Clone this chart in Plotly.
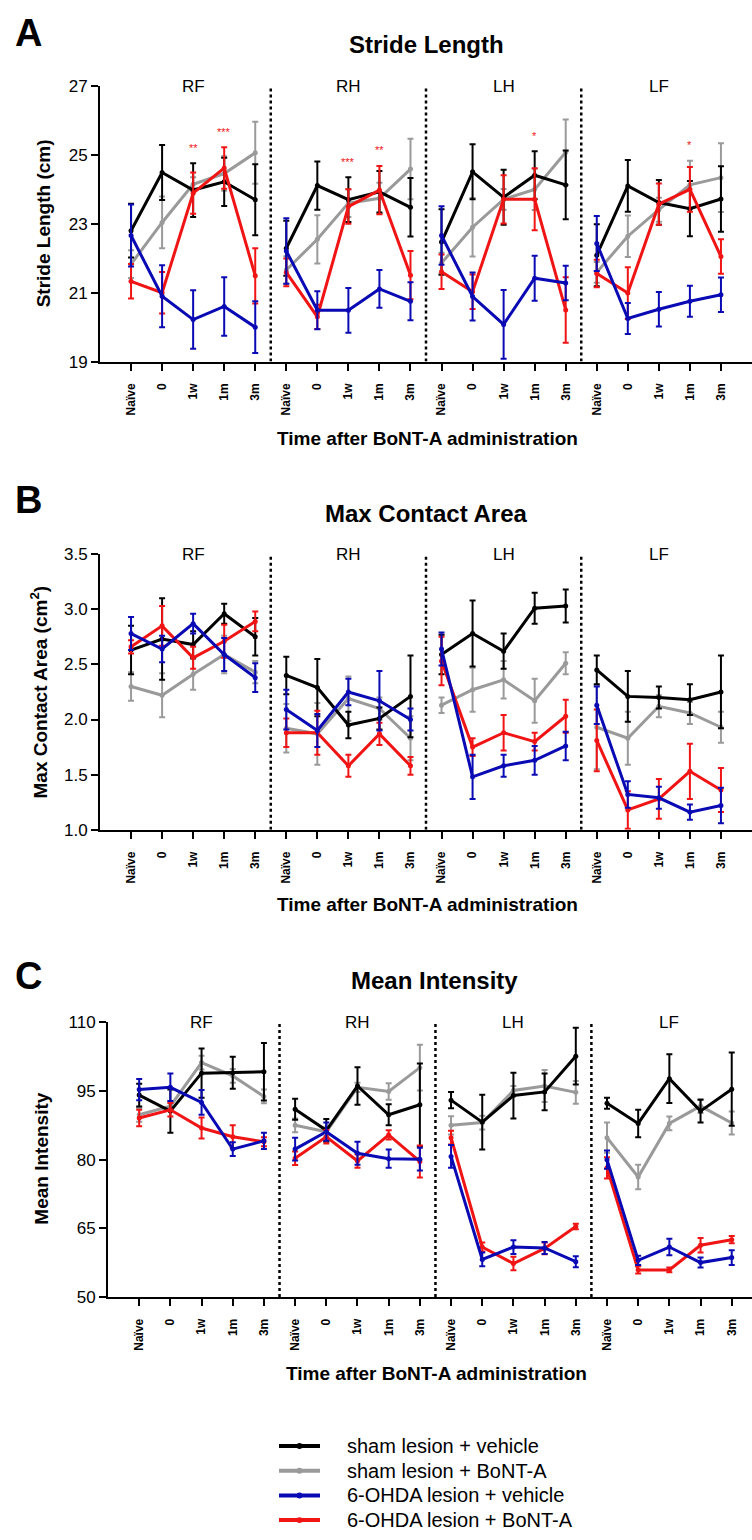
import plotly.graph_objects as go

W, H = 752, 1540
FONT = "Liberation Sans, Arial, sans-serif"

# ---------------- data ----------------
groups = ["RF", "RH", "LH", "LF"]
times = ["Naïve", "0", "1w", "1m", "3m"]
series_names = ["sham lesion + vehicle", "sham lesion + BoNT-A",
                "6-OHDA lesion + vehicle", "6-OHDA lesion + BoNT-A"]
series_colors = ["#000000", "#9a9a9a", "#0a0ab4", "#f01414"]

# Stride length (cm): per series, per group (RF, RH, LH, LF), 5 time points
stride_mean = {
    "sham lesion + vehicle": [[22.8, 24.49, 23.98, 24.22, 23.70], [22.29, 24.11, 23.70, 23.93, 23.48],
                              [22.47, 24.51, 23.77, 24.41, 24.13], [22.09, 24.10, 23.62, 23.44, 23.72]],
    "sham lesion + BoNT-A": [[21.83, 23.04, 24.15, 24.46, 25.06], [21.66, 22.55, 23.60, 23.74, 24.59],
                             [21.86, 22.90, 23.71, 24.00, 25.08], [21.59, 22.64, 23.41, 24.13, 24.34]],
    "6-OHDA lesion + vehicle": [[22.66, 20.90, 20.22, 20.60, 20.00], [22.21, 20.49, 20.49, 21.11, 20.75],
                                [22.66, 20.89, 20.08, 21.42, 21.28], [22.43, 20.25, 20.52, 20.75, 20.94]],
    "6-OHDA lesion + BoNT-A": [[21.33, 21.0, 23.89, 24.62, 21.49], [21.59, 20.30, 23.50, 23.98, 21.51],
                               [21.61, 21.03, 23.71, 23.71, 20.50], [21.56, 20.99, 23.57, 24.00, 22.05]],
}
stride_err = {
    "sham lesion + vehicle": [[0.78, 0.80, 0.78, 0.70, 1.03], [0.80, 0.70, 0.65, 0.60, 0.85],
                              [0.95, 0.80, 0.80, 0.70, 1.00], [0.90, 0.75, 0.65, 0.80, 0.95]],
    "sham lesion + BoNT-A": [[0.40, 0.75, 0.20, 0.50, 0.90], [0.40, 0.70, 0.40, 0.45, 0.88],
                             [0.30, 0.85, 0.30, 0.60, 0.95], [0.30, 0.60, 0.35, 0.70, 1.00]],
    "6-OHDA lesion + vehicle": [[0.90, 0.90, 0.85, 0.85, 0.75], [0.95, 0.55, 0.65, 0.55, 0.55],
                                [0.85, 0.70, 1.00, 0.65, 0.50], [0.80, 0.45, 0.50, 0.45, 0.50]],
    "6-OHDA lesion + BoNT-A": [[0.50, 0.60, 0.60, 0.60, 0.80], [0.40, 0.35, 0.50, 0.70, 0.70],
                               [0.50, 0.50, 0.70, 0.90, 0.95], [0.40, 0.75, 0.60, 0.65, 0.50]],
}
# significance stars (group index, time index, label)
stride_stars = [(0, 2, "**"), (0, 3, "***"), (1, 2, "***"), (1, 3, "**"), (2, 3, "*"), (3, 3, "*")]

# Max contact area (cm^2)
area_mean = {
    "sham lesion + vehicle": [[2.63, 2.73, 2.68, 2.96, 2.75], [2.40, 2.29, 1.95, 2.01, 2.21],
                              [2.59, 2.78, 2.62, 3.01, 3.03], [2.45, 2.21, 2.20, 2.18, 2.25]],
    "sham lesion + BoNT-A": [[2.30, 2.22, 2.41, 2.59, 2.43], [1.92, 1.87, 2.19, 2.10, 1.83],
                             [2.13, 2.27, 2.36, 2.17, 2.51], [1.93, 1.83, 2.12, 2.06, 1.93]],
    "6-OHDA lesion + vehicle": [[2.78, 2.64, 2.87, 2.59, 2.38], [2.09, 1.90, 2.25, 2.17, 2.00],
                                [2.64, 1.48, 1.58, 1.63, 1.76], [2.13, 1.32, 1.29, 1.16, 1.22]],
    "6-OHDA lesion + BoNT-A": [[2.66, 2.85, 2.56, 2.71, 2.89], [1.88, 1.88, 1.58, 1.87, 1.58],
                               [2.53, 1.75, 1.88, 1.80, 2.03], [1.81, 1.18, 1.28, 1.53, 1.36]],
}
area_err = {
    "sham lesion + vehicle": [[0.22, 0.37, 0.12, 0.09, 0.17], [0.17, 0.26, 0.12, 0.10, 0.37],
                              [0.18, 0.30, 0.16, 0.14, 0.15], [0.13, 0.23, 0.10, 0.14, 0.33]],
    "sham lesion + BoNT-A": [[0.13, 0.20, 0.14, 0.17, 0.10], [0.22, 0.28, 0.20, 0.10, 0.20],
                             [0.07, 0.20, 0.17, 0.20, 0.10], [0.38, 0.24, 0.10, 0.10, 0.14]],
    "6-OHDA lesion + vehicle": [[0.15, 0.12, 0.09, 0.15, 0.13], [0.18, 0.15, 0.12, 0.27, 0.10],
                                [0.15, 0.20, 0.10, 0.13, 0.13], [0.17, 0.12, 0.10, 0.07, 0.16]],
    "6-OHDA lesion + BoNT-A": [[0.06, 0.18, 0.10, 0.15, 0.09], [0.13, 0.20, 0.10, 0.10, 0.08],
                               [0.22, 0.08, 0.16, 0.08, 0.15], [0.28, 0.17, 0.18, 0.25, 0.20]],
}

# Mean intensity
inten_mean = {
    "sham lesion + vehicle": [[94.1, 90.6, 98.9, 99.0, 99.2], [91.0, 86.4, 96.1, 89.8, 92.0],
                              [93.0, 88.2, 94.0, 94.8, 102.6], [92.3, 87.9, 97.7, 90.6, 95.4]],
    "sham lesion + BoNT-A": [[89.8, 91.7, 101.2, 98.3, 93.8], [87.5, 86.1, 95.8, 94.9, 100.1],
                             [87.5, 88.1, 95.1, 96.1, 94.7], [84.8, 76.2, 87.9, 91.7, 88.0]],
    "6-OHDA lesion + vehicle": [[95.3, 95.8, 92.5, 82.3, 84.1], [82.3, 86.1, 81.4, 80.2, 80.1],
                                [80.7, 58.2, 60.9, 60.7, 57.7], [80.0, 58.0, 60.9, 57.5, 58.6]],
    "6-OHDA lesion + BoNT-A": [[89.1, 90.9, 86.9, 85.0, 83.9], [80.3, 85.0, 79.7, 85.4, 79.6],
                               [84.8, 60.9, 57.3, 60.6, 65.4], [78.2, 55.9, 55.9, 61.3, 62.5]],
}
inten_err = {
    "sham lesion + vehicle": [[2.5, 4.7, 5.4, 3.5, 6.3], [2.3, 2.5, 4.1, 2.3, 9.0],
                              [1.8, 6.0, 5.0, 4.0, 6.2], [1.2, 3.0, 5.3, 2.5, 8.0]],
    "sham lesion + BoNT-A": [[1.5, 1.0, 1.5, 1.5, 1.5], [1.5, 1.0, 1.0, 1.8, 5.0],
                             [2.0, 1.5, 1.0, 3.5, 2.5], [3.3, 2.7, 1.5, 1.5, 2.5]],
    "6-OHDA lesion + vehicle": [[2.3, 3.0, 2.7, 1.5, 1.8], [2.5, 2.0, 2.5, 2.0, 2.5],
                                [2.5, 1.5, 1.5, 1.3, 1.2], [2.0, 1.0, 1.8, 1.1, 1.6]],
    "6-OHDA lesion + BoNT-A": [[1.8, 1.5, 2.3, 2.5, 1.0], [1.5, 1.5, 1.5, 1.0, 3.5],
                               [1.5, 1.0, 1.5, 1.3, 0.6], [2.3, 0.8, 0.5, 1.6, 0.8]],
}

panels = [
    dict(letter="A", title="Stride Length", ytitle="Stride Length (cm)",
         mean=stride_mean, err=stride_err, yr=[19, 27], yt=[19, 21, 23, 25, 27], fmt="d",
         px_l=100, py_t=78, py_b=357, xr=[-1, 20],
         title_xy=(426, 36), letter_xy=(28, 24), ytitle_xy=(43, 217), xtitle_xy=(427, 435)),
    dict(letter="B", title="Max Contact Area", ytitle="Max Contact Area (cm<sup>2</sup>)",
         mean=area_mean, err=area_err, yr=[1.0, 3.5], yt=[1.0, 1.5, 2.0, 2.5, 3.0, 3.5], fmt=".1f",
         px_l=100, py_t=552, py_b=831, xr=[-1, 20],
         title_xy=(426, 511), letter_xy=(28, 497), ytitle_xy=(39, 692), xtitle_xy=(427, 907)),
    dict(letter="C", title="Mean Intensity", ytitle="Mean Intensity",
         mean=inten_mean, err=inten_err, yr=[50, 110], yt=[50, 65, 80, 95, 110], fmt="d",
         px_l=108, py_t=1026, py_b=1304, xr=[-1, 19.65],
         title_xy=(434, 984), letter_xy=(28, 979), ytitle_xy=(42, 1164), xtitle_xy=(436, 1382)),
]

draw_order = [1, 0, 3, 2]  # gray, black, red, blue drawn last

fig = go.Figure()
shapes, annos = [], []

def X(px):
    return px / W

def Y(py):
    return 1 - py / H

n_t = len(times)
tickvals = [g * n_t + i for g in range(len(groups)) for i in range(n_t)]
ticktext = [times[i] for g in range(len(groups)) for i in range(n_t)]

for p_i, p in enumerate(panels):
    sfx = "" if p_i == 0 else str(p_i + 1)
    xa, ya = "x" + sfx, "y" + sfx
    for s_i in draw_order:
        name = series_names[s_i]
        xs, ys, es = [], [], []
        for g in range(len(groups)):
            for i in range(n_t):
                xs.append(g * n_t + i)
                ys.append(p["mean"][name][g][i])
                es.append(p["err"][name][g][i])
            xs.append(None); ys.append(None); es.append(None)
        fig.add_trace(go.Scatter(
            x=xs, y=ys, xaxis=xa, yaxis=ya, mode="lines+markers", name=name,
            line=dict(color=series_colors[s_i], width=3),
            marker=dict(color=series_colors[s_i], size=5),
            error_y=dict(type="data", array=es, color=series_colors[s_i], thickness=2, width=3),
            showlegend=False, connectgaps=False, hoverinfo="skip"))
    fig.update_layout({
        "xaxis" + sfx: dict(domain=[X(p["px_l"]), 1], anchor=ya, range=p["xr"],
                            tickmode="array", tickvals=tickvals, ticktext=ticktext, tickangle=-90,
                            tickfont=dict(family=FONT, size=12, color="black", weight="bold"),
                            ticklabelstandoff=8,
                            showline=True, linewidth=2, linecolor="black",
                            ticks="outside", ticklen=7, tickwidth=2, tickcolor="black",
                            showgrid=False, zeroline=False),
        "yaxis" + sfx: dict(domain=[Y(p["py_b"]), Y(p["py_t"])], anchor=xa, range=p["yr"],
                            tickmode="array", tickvals=p["yt"], tickformat=p["fmt"],
                            tickfont=dict(family=FONT, size=17, color="black"),
                            showline=True, linewidth=2, linecolor="black",
                            ticks="outside", ticklen=7, tickwidth=2, tickcolor="black",
                            showgrid=False, zeroline=False),
    })
    # dotted separators between paw groups
    for g in range(1, len(groups)):
        shapes.append(dict(type="line", xref=xa, yref=ya, x0=g * n_t - 0.5, x1=g * n_t - 0.5,
                           y0=p["yr"][0], y1=p["yr"][1], line=dict(color="black", width=2.5, dash="dot")))
    # group labels
    for g, gl in enumerate(groups):
        annos.append(dict(xref=xa, yref=ya, x=g * n_t + 2, y=p["yr"][1], text=gl, showarrow=False,
                          font=dict(family=FONT, size=17, color="black"), yanchor="middle"))
    # titles
    annos.append(dict(xref="paper", yref="paper", x=X(p["title_xy"][0]), y=Y(p["title_xy"][1]),
                      text="<b>%s</b>" % p["title"], showarrow=False,
                      font=dict(family=FONT, size=24, color="black"), xanchor="center", yanchor="middle"))
    annos.append(dict(xref="paper", yref="paper", x=X(p["letter_xy"][0]), y=Y(p["letter_xy"][1]),
                      text="<b>%s</b>" % p["letter"], showarrow=False,
                      font=dict(family=FONT, size=38, color="black"), xanchor="center", yanchor="middle"))
    annos.append(dict(xref="paper", yref="paper", x=X(p["ytitle_xy"][0]), y=Y(p["ytitle_xy"][1]),
                      text="<b>%s</b>" % p["ytitle"], showarrow=False, textangle=-90,
                      font=dict(family=FONT, size=19, color="black"), xanchor="center", yanchor="middle"))
    annos.append(dict(xref="paper", yref="paper", x=X(p["xtitle_xy"][0]), y=Y(p["xtitle_xy"][1]),
                      text="<b>Time after BoNT-A administration</b>", showarrow=False,
                      font=dict(family=FONT, size=19, color="black"), xanchor="center", yanchor="middle"))

# significance stars in panel A, placed above highest error bar at that point
for g, i, lab in stride_stars:
    top = max(stride_mean[n][g][i] + stride_err[n][g][i] for n in series_names)
    annos.append(dict(xref="x", yref="y", x=g * n_t + i, y=top + 0.45, text=lab, showarrow=False,
                      font=dict(family=FONT, size=11, color="#f01414"), yanchor="middle"))

# legend (line + dot + label per series)
leg_x0, leg_x1, leg_tx, leg_y0, leg_dy = 279, 320, 345, 1455, 25
for s_i, name in enumerate(series_names):
    yy = leg_y0 + s_i * leg_dy
    c = series_colors[s_i]
    shapes.append(dict(type="line", xref="paper", yref="paper", x0=X(leg_x0), x1=X(leg_x1),
                       y0=Y(yy), y1=Y(yy), line=dict(color=c, width=4)))
    cx = (leg_x0 + leg_x1) / 2
    shapes.append(dict(type="circle", xref="paper", yref="paper", x0=X(cx - 3), x1=X(cx + 3),
                       y0=Y(yy + 3), y1=Y(yy - 3), fillcolor=c, line=dict(color=c, width=0)))
    annos.append(dict(xref="paper", yref="paper", x=X(leg_tx), y=Y(yy), text=name, showarrow=False,
                      xanchor="left", yanchor="middle", font=dict(family=FONT, size=20, color="black")))

fig.update_layout(
    width=W, height=H, margin=dict(l=0, r=0, t=0, b=0),
    paper_bgcolor="white", plot_bgcolor="white",
    shapes=shapes, annotations=annos,
    showlegend=False,
)

fig.write_html("out.html", config={"displayModeBar": False},
               post_script="document.body.style.margin='0';")
